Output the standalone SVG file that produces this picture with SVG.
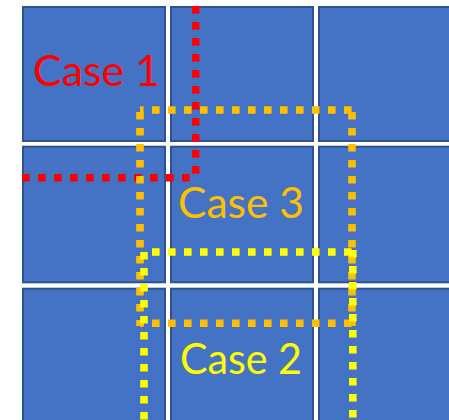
<svg xmlns="http://www.w3.org/2000/svg" width="449" height="420" viewBox="0 0 449 420">
<style>
.cell{fill:#4472C4;stroke:#2F528F;stroke-width:2}
.dot{fill:none;stroke-width:7.6;stroke-dasharray:7.6 8.4}
.red{stroke:#FF0000}
.org{stroke:#FFC000}
.yel{stroke:#FFFF00}
.lbl{font-family:Lato,"Open Sans","Liberation Sans",sans-serif;font-size:43px}
</style>
<rect width="449" height="420" fill="#FFFFFF"/>
<g id="grid">
<rect class="cell" x="23" y="7" width="142" height="134"/>
<rect class="cell" x="171" y="7" width="142" height="134"/>
<rect class="cell" x="319" y="7" width="142" height="134"/>
<rect class="cell" x="23" y="146.7" width="142" height="135.6"/>
<rect class="cell" x="171" y="146.7" width="142" height="135.6"/>
<rect class="cell" x="319" y="146.7" width="142" height="135.6"/>
<rect class="cell" x="23" y="288.7" width="142" height="140"/>
<rect class="cell" x="171" y="288.7" width="142" height="140"/>
<rect class="cell" x="319" y="288.7" width="142" height="140"/>
</g>
<g id="connectors">
<g id="case1-lines">
<path class="dot red" d="M22,177.7 H191"/>
<path class="dot red" d="M195.7,6 V174"/>
</g>
<g id="case3-lines">
<path class="dot org" d="M140,110 H352" stroke-dashoffset="4"/>
<path class="dot org" d="M140,323.3 H352" stroke-dashoffset="4"/>
<path class="dot org" d="M140,110 V326" stroke-dashoffset="14"/>
<path class="dot org" d="M352,110 V326" stroke-dashoffset="14"/>
</g>
<g id="case2-lines">
<path class="dot yel" d="M144,252 H352" stroke-dashoffset="8"/>
<path class="dot yel" d="M144,252 V420"/>
<path class="dot yel" d="M352.8,250 V420"/>
</g>
</g>
<g id="label-case1"><text class="lbl" x="33" y="86" fill="#FF0000" textLength="127" lengthAdjust="spacingAndGlyphs">Case 1</text></g>
<g id="label-case3"><text class="lbl" x="178" y="218.3" fill="#FFC000" textLength="126" lengthAdjust="spacingAndGlyphs">Case 3</text></g>
<g id="label-case2"><text class="lbl" x="180" y="374" fill="#FFFF00" textLength="122" lengthAdjust="spacingAndGlyphs">Case 2</text></g>
</svg>
